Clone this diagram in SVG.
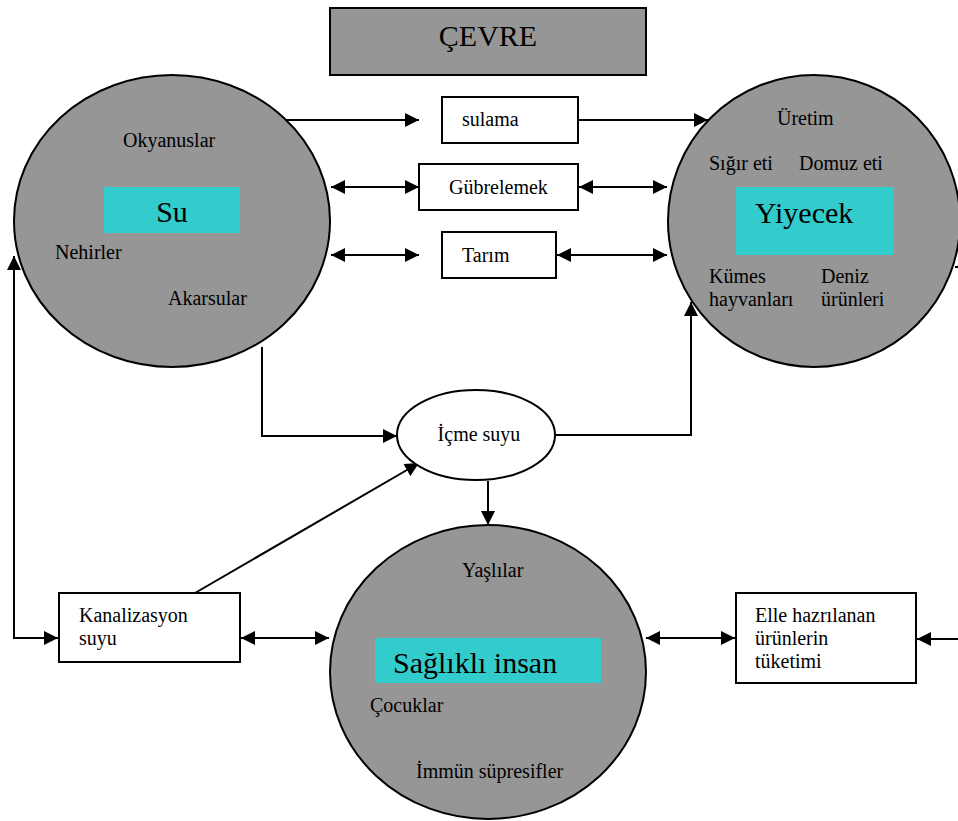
<svg xmlns="http://www.w3.org/2000/svg" width="958" height="821" viewBox="0 0 958 821" font-family="'Liberation Serif', 'Times New Roman', Times, serif">
<style>
text{font-family:'Liberation Serif','Times New Roman',Times,serif;font-size:20px;fill:#000}
.big{font-size:30px}
.gray{fill:#969696;stroke:#000;stroke-width:2}
.box{fill:#fff;stroke:#000;stroke-width:2}
.cy{fill:#33CCCC}
.c{fill:none;stroke:#000;stroke-width:2}
</style>
<defs>
<marker id="ah" markerUnits="userSpaceOnUse" markerWidth="15" markerHeight="14" refX="14" refY="7" orient="auto-start-reverse" viewBox="0 0 15 14">
<path d="M0,0 L14,7 L0,14 z" fill="#000"/>
</marker>
</defs>
<rect width="958" height="821" fill="#fff"/>

<g id="connectors">
<line class="c" x1="285" y1="120" x2="419" y2="120" marker-end="url(#ah)"/>
<line class="c" x1="578" y1="120" x2="708" y2="120" marker-end="url(#ah)"/>
<line class="c" x1="331" y1="187" x2="419" y2="187" marker-start="url(#ah)" marker-end="url(#ah)"/>
<line class="c" x1="579" y1="187" x2="667" y2="187" marker-start="url(#ah)" marker-end="url(#ah)"/>
<line class="c" x1="331" y1="255" x2="419" y2="255" marker-start="url(#ah)" marker-end="url(#ah)"/>
<line class="c" x1="557" y1="255" x2="667" y2="255" marker-start="url(#ah)" marker-end="url(#ah)"/>
<polyline class="c" points="262,347 262,436 397,436" marker-end="url(#ah)"/>
<polyline class="c" points="555,435 691,435 691,302" marker-end="url(#ah)"/>
<line class="c" x1="488" y1="481" x2="488" y2="525" marker-end="url(#ah)"/>
<line class="c" x1="195" y1="593" x2="419" y2="463" marker-end="url(#ah)"/>
<polyline class="c" points="14,256 14,638 58,638" marker-start="url(#ah)" marker-end="url(#ah)"/>
<line class="c" x1="241" y1="638" x2="329" y2="638" marker-start="url(#ah)" marker-end="url(#ah)"/>
<line class="c" x1="646" y1="638" x2="735" y2="638" marker-start="url(#ah)" marker-end="url(#ah)"/>
<line class="c" x1="970" y1="639" x2="917" y2="639" marker-end="url(#ah)"/>
<line class="c" x1="975" y1="267" x2="955" y2="267" marker-end="url(#ah)"/>
</g>

<g id="cevre">
<rect x="330" y="8" width="316" height="67" class="gray"/>
<text x="488" y="46" class="big" text-anchor="middle">ÇEVRE</text>
</g>

<g id="su">
<ellipse cx="172" cy="221" rx="158" ry="146" class="gray"/>
<rect x="104" y="187" width="136" height="46" class="cy"/>
<text x="172" y="222" class="big" text-anchor="middle">Su</text>
<text x="123" y="147">Okyanuslar</text>
<text x="55" y="259">Nehirler</text>
<text x="168" y="305">Akarsular</text>
</g>

<g id="yiyecek">
<ellipse cx="814" cy="221" rx="146" ry="146" class="gray"/>
<rect x="736" y="187" width="158" height="68" class="cy"/>
<text x="755" y="223" class="big">Yiyecek</text>
<text x="777" y="125">Üretim</text>
<text x="709" y="170">Sığır eti</text>
<text x="799" y="170">Domuz eti</text>
<text x="709" y="283">Kümes</text>
<text x="709" y="306">hayvanları</text>
<text x="821" y="283">Deniz</text>
<text x="821" y="306">ürünleri</text>
</g>

<g id="sulama">
<rect x="442" y="97" width="136" height="46" class="box"/>
<text x="462" y="126">sulama</text>
</g>

<g id="gubrelemek">
<rect x="419" y="164" width="159" height="46" class="box"/>
<text x="449" y="194">Gübrelemek</text>
</g>

<g id="tarim">
<rect x="442" y="232" width="114" height="46" class="box"/>
<text x="462" y="262">Tarım</text>
</g>

<g id="icme">
<ellipse cx="476" cy="435" rx="79" ry="45" class="box"/>
<text x="479" y="441" text-anchor="middle">İçme suyu</text>
</g>

<g id="kanalizasyon">
<rect x="59" y="593" width="181" height="69" class="box"/>
<text x="79" y="622">Kanalizasyon</text>
<text x="79" y="645">suyu</text>
</g>

<g id="saglikli">
<ellipse cx="488" cy="672" rx="158" ry="147" class="gray"/>
<rect x="375" y="638" width="226" height="45" class="cy"/>
<text x="393" y="673" class="big">Sağlıklı insan</text>
<text x="462" y="577">Yaşlılar</text>
<text x="370" y="712">Çocuklar</text>
<text x="416" y="778">İmmün süpresifler</text>
</g>

<g id="elle">
<rect x="736" y="593" width="180" height="90" class="box"/>
<text x="755" y="622">Elle hazrılanan</text>
<text x="755" y="645">ürünlerin</text>
<text x="755" y="668">tüketimi</text>
</g>
</svg>
